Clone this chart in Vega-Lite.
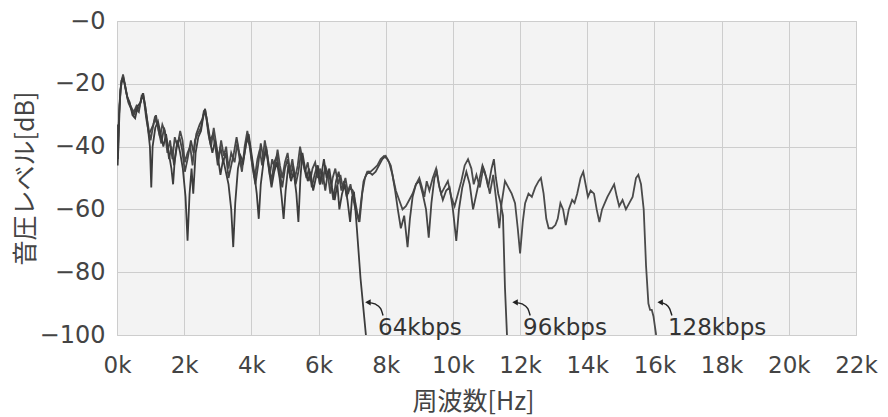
{
"$schema":"https://vega.github.io/schema/vega-lite/v6.json",
"width":739,"height":314,
"autosize":"none",
"padding":{"left":117,"top":21,"right":32,"bottom":82},
"background":"white",
"config":{"view":{"fill":"#f3f3f3","stroke":"#cdcdcd"},"font":"DejaVu Sans, Noto Sans CJK JP"},
"datasets":{
"s128":[[0.0,-36],[0.03,-44],[0.06,-30],[0.12,-20],[0.18,-17],[0.25,-21],[0.32,-25],[0.4,-27],[0.5,-29],[0.58,-27],[0.65,-28],[0.72,-25],[0.78,-23],[0.85,-28],[0.92,-33],[1.0,-38],[1.05,-35],[1.12,-31],[1.2,-33],[1.28,-37],[1.35,-33],[1.42,-35],[1.5,-42],[1.58,-38],[1.65,-44],[1.72,-37],[1.8,-40],[1.88,-35],[1.95,-38],[2.02,-45],[2.1,-42],[2.18,-40],[2.25,-46],[2.32,-38],[2.4,-36],[2.5,-34],[2.58,-29],[2.65,-30],[2.72,-36],[2.8,-40],[2.88,-34],[2.95,-39],[3.02,-44],[3.1,-38],[3.18,-43],[3.25,-40],[3.32,-47],[3.4,-42],[3.5,-45],[3.58,-39],[3.65,-44],[3.72,-48],[3.8,-40],[3.88,-35],[3.95,-39],[4.02,-45],[4.1,-50],[4.18,-44],[4.25,-41],[4.32,-46],[4.4,-38],[4.48,-43],[4.55,-49],[4.62,-44],[4.7,-47],[4.78,-41],[4.85,-46],[4.92,-50],[5.0,-45],[5.08,-42],[5.15,-48],[5.22,-44],[5.3,-50],[5.38,-46],[5.45,-40],[5.52,-44],[5.6,-48],[5.68,-45],[5.75,-51],[5.82,-47],[5.9,-45],[5.98,-50],[6.05,-47],[6.12,-52],[6.2,-46],[6.28,-49],[6.35,-55],[6.42,-50],[6.5,-47],[6.58,-52],[6.65,-49],[6.72,-53],[6.8,-50],[6.88,-55],[6.95,-52],[7.02,-56],[7.1,-60],[7.22,-64],[7.3,-55],[7.38,-50],[7.45,-48],[7.55,-48],[7.65,-47],[7.75,-46],[7.85,-44],[7.95,-43],[8.05,-44],[8.15,-46],[8.22,-50],[8.3,-54],[8.4,-57],[8.5,-60],[8.6,-59],[8.7,-57],[8.8,-55],[8.9,-52],[9.0,-50],[9.08,-53],[9.15,-56],[9.22,-51],[9.3,-54],[9.4,-50],[9.5,-47],[9.58,-52],[9.65,-55],[9.75,-53],[9.85,-51],[9.95,-56],[10.05,-59],[10.15,-55],[10.25,-51],[10.35,-46],[10.45,-44],[10.55,-47],[10.62,-52],[10.7,-49],[10.8,-53],[10.9,-47],[11.0,-50],[11.1,-55],[11.2,-49],[11.3,-58],[11.38,-66],[11.45,-58],[11.55,-51],[11.65,-53],[11.75,-55],[11.85,-58],[11.93,-66],[12.0,-74],[12.08,-64],[12.15,-58],[12.25,-55],[12.35,-56],[12.45,-53],[12.55,-51],[12.62,-50],[12.7,-55],[12.78,-63],[12.85,-66],[12.95,-66],[13.05,-65],[13.12,-63],[13.2,-58],[13.28,-60],[13.36,-65],[13.45,-60],[13.55,-57],[13.62,-58],[13.7,-55],[13.8,-50],[13.88,-48],[13.95,-52],[14.02,-56],[14.1,-54],[14.2,-55],[14.28,-60],[14.36,-64],[14.44,-60],[14.52,-58],[14.6,-56],[14.7,-54],[14.8,-52],[14.88,-56],[14.95,-59],[15.05,-57],[15.15,-60],[15.25,-58],[15.35,-56],[15.45,-50],[15.52,-49],[15.6,-52],[15.68,-60],[15.75,-78],[15.82,-90],[15.87,-92],[15.92,-92],[15.97,-94],[16.05,-100]],
"s96":[[0.0,-33],[0.03,-40],[0.07,-27],[0.13,-19],[0.19,-18],[0.26,-22],[0.34,-26],[0.42,-28],[0.5,-30],[0.57,-28],[0.65,-29],[0.73,-24],[0.8,-25],[0.87,-31],[0.95,-36],[1.0,-35],[1.08,-33],[1.16,-30],[1.24,-35],[1.32,-39],[1.4,-34],[1.48,-38],[1.55,-44],[1.62,-40],[1.7,-46],[1.78,-40],[1.86,-37],[1.94,-41],[2.02,-48],[2.1,-44],[2.2,-38],[2.28,-42],[2.36,-36],[2.46,-33],[2.55,-31],[2.62,-28],[2.7,-33],[2.78,-38],[2.86,-36],[2.94,-41],[3.0,-46],[3.08,-40],[3.16,-45],[3.24,-42],[3.32,-50],[3.4,-46],[3.48,-42],[3.56,-37],[3.64,-42],[3.72,-46],[3.8,-42],[3.88,-37],[3.95,-40],[4.04,-47],[4.12,-52],[4.2,-46],[4.28,-39],[4.36,-44],[4.44,-40],[4.52,-46],[4.6,-51],[4.68,-45],[4.76,-43],[4.84,-48],[4.92,-53],[5.0,-47],[5.08,-44],[5.16,-50],[5.24,-46],[5.32,-52],[5.4,-48],[5.48,-42],[5.56,-46],[5.64,-50],[5.72,-47],[5.8,-53],[5.88,-49],[5.96,-46],[6.04,-52],[6.12,-48],[6.2,-54],[6.28,-48],[6.36,-51],[6.44,-57],[6.52,-51],[6.6,-48],[6.68,-54],[6.76,-51],[6.84,-56],[6.92,-53],[7.02,-54],[7.1,-58],[7.2,-64],[7.26,-58],[7.34,-51],[7.42,-49],[7.5,-48],[7.6,-49],[7.7,-48],[7.8,-46],[7.9,-44],[8.0,-43],[8.1,-45],[8.2,-49],[8.28,-54],[8.36,-60],[8.45,-66],[8.55,-62],[8.65,-72],[8.72,-63],[8.8,-56],[8.9,-52],[9.0,-51],[9.1,-55],[9.2,-60],[9.28,-69],[9.36,-58],[9.45,-50],[9.52,-48],[9.6,-53],[9.7,-57],[9.8,-54],[9.9,-53],[10.0,-60],[10.1,-70],[10.18,-60],[10.28,-53],[10.4,-48],[10.5,-52],[10.6,-60],[10.68,-56],[10.78,-51],[10.88,-46],[10.95,-48],[11.05,-53],[11.15,-47],[11.22,-44],[11.28,-50],[11.35,-55],[11.42,-58],[11.49,-62],[11.55,-85],[11.61,-100]],
"s64":[[0.0,-38],[0.02,-46],[0.05,-36],[0.1,-22],[0.17,-18],[0.23,-20],[0.3,-24],[0.38,-26],[0.46,-30],[0.54,-31],[0.62,-27],[0.7,-26],[0.77,-23],[0.84,-27],[0.9,-32],[0.98,-40],[1.02,-53],[1.06,-40],[1.14,-34],[1.22,-32],[1.3,-36],[1.38,-40],[1.46,-36],[1.54,-42],[1.62,-47],[1.67,-52],[1.72,-44],[1.8,-38],[1.88,-42],[1.96,-47],[2.04,-56],[2.1,-70],[2.16,-55],[2.22,-47],[2.27,-55],[2.34,-42],[2.42,-37],[2.5,-35],[2.56,-31],[2.62,-28],[2.68,-32],[2.76,-38],[2.84,-42],[2.92,-38],[3.0,-43],[3.08,-49],[3.16,-44],[3.24,-48],[3.32,-52],[3.4,-60],[3.46,-72],[3.52,-58],[3.6,-47],[3.68,-43],[3.76,-45],[3.84,-39],[3.92,-36],[4.0,-42],[4.08,-48],[4.16,-55],[4.22,-63],[4.28,-52],[4.36,-45],[4.44,-41],[4.52,-47],[4.6,-53],[4.68,-48],[4.76,-45],[4.84,-50],[4.9,-56],[4.96,-63],[5.02,-54],[5.1,-46],[5.18,-51],[5.26,-48],[5.34,-55],[5.4,-64],[5.46,-50],[5.52,-42],[5.6,-47],[5.68,-51],[5.76,-48],[5.84,-54],[5.92,-50],[5.98,-46],[6.04,-52],[6.1,-48],[6.16,-44],[6.24,-50],[6.32,-47],[6.4,-53],[6.48,-57],[6.56,-52],[6.62,-60],[6.7,-55],[6.78,-52],[6.86,-57],[6.94,-64],[7.0,-56],[7.06,-55],[7.14,-66],[7.25,-82],[7.41,-100]],
"ann":[{"t":"64kbps","f":7.77,"db":-100},{"t":"96kbps","f":12.09,"db":-100},{"t":"128kbps","f":16.4,"db":-100}],
"arr":[{"g":"a","f":7.45,"db":-89.6},{"g":"a","f":7.7,"db":-90.2},{"g":"a","f":7.85,"db":-91.6},{"g":"a","f":7.92,"db":-93.8},{"g":"b","f":11.83,"db":-89.6},{"g":"b","f":12.08,"db":-90.2},{"g":"b","f":12.23,"db":-91.6},{"g":"b","f":12.3,"db":-93.8},{"g":"c","f":16.15,"db":-89.6},{"g":"c","f":16.33,"db":-90.2},{"g":"c","f":16.45,"db":-91.6},{"g":"c","f":16.52,"db":-93.8}],
"heads":[{"f":7.47,"db":-89.6},{"f":11.85,"db":-89.6},{"f":16.17,"db":-89.6}]
},
"layer":[
{"data":{"name":"s128"},"transform":[{"calculate":"datum[0]","as":"f"},{"calculate":"datum[1]","as":"db"}],
 "mark":{"type":"line","color":"#4a4a4a","strokeWidth":1.8,"clip":true},
 "encoding":{
  "x":{"field":"f","type":"quantitative","scale":{"domain":[0,22],"nice":false,"zero":false},
   "axis":{"values":[0,2,4,6,8,10,12,14,16,18,20,22],"labelExpr":"datum.value + 'k'","title":"周波数[Hz]","grid":true,"gridColor":"#cdcdcd","gridWidth":1,"tickSize":0,"domain":false,"labelFontSize":23,"labelColor":"#444","labelPadding":19,"labelFlush":false,"labelOverlap":false,"labelBound":false,"titleFontSize":25,"titleFontWeight":"normal","titleColor":"#444","titleX":356,"titleY":66,"titleBaseline":"middle","titleAlign":"center","titleFont":"Noto Sans CJK JP"}},
  "y":{"field":"db","type":"quantitative","scale":{"domain":[-100,0],"nice":false,"zero":false},
   "axis":{"values":[-100,-80,-60,-40,-20,0],"labelExpr":"'−' + abs(datum.value)","title":"音圧レベル[dB]","grid":true,"gridColor":"#cdcdcd","gridWidth":1,"tickSize":0,"domain":false,"labelFontSize":24,"labelColor":"#444","labelPadding":12,"labelOverlap":false,"labelFlush":false,"labelBound":false,"titleFontSize":25,"titleFontWeight":"normal","titleColor":"#444","titleX":-92,"titleY":157,"titleBaseline":"middle","titleAlign":"center","titleFont":"Noto Sans CJK JP"}}
 }},
{"data":{"name":"s96"},"transform":[{"calculate":"datum[0]","as":"f"},{"calculate":"datum[1]","as":"db"}],
 "mark":{"type":"line","color":"#444444","strokeWidth":1.8,"clip":true},
 "encoding":{"x":{"field":"f","type":"quantitative"},"y":{"field":"db","type":"quantitative"}}},
{"data":{"name":"s64"},"transform":[{"calculate":"datum[0]","as":"f"},{"calculate":"datum[1]","as":"db"}],
 "mark":{"type":"line","color":"#3c3c3c","strokeWidth":1.8,"clip":true},
 "encoding":{"x":{"field":"f","type":"quantitative"},"y":{"field":"db","type":"quantitative"}}},
{"data":{"name":"arr"},
 "mark":{"type":"line","color":"#222","strokeWidth":1.4,"interpolate":"monotone"},
 "encoding":{"x":{"field":"f","type":"quantitative"},"y":{"field":"db","type":"quantitative"},"detail":{"field":"g"}}},
{"data":{"name":"heads"},
 "mark":{"type":"point","shape":"triangle-left","filled":true,"color":"#222","size":40,"opacity":1},
 "encoding":{"x":{"field":"f","type":"quantitative"},"y":{"field":"db","type":"quantitative"}}},
{"data":{"name":"ann"},
 "mark":{"type":"text","align":"left","baseline":"alphabetic","fontSize":23,"color":"#333"},
 "encoding":{"x":{"field":"f","type":"quantitative"},"y":{"field":"db","type":"quantitative"},"text":{"field":"t"}}}
]
}
